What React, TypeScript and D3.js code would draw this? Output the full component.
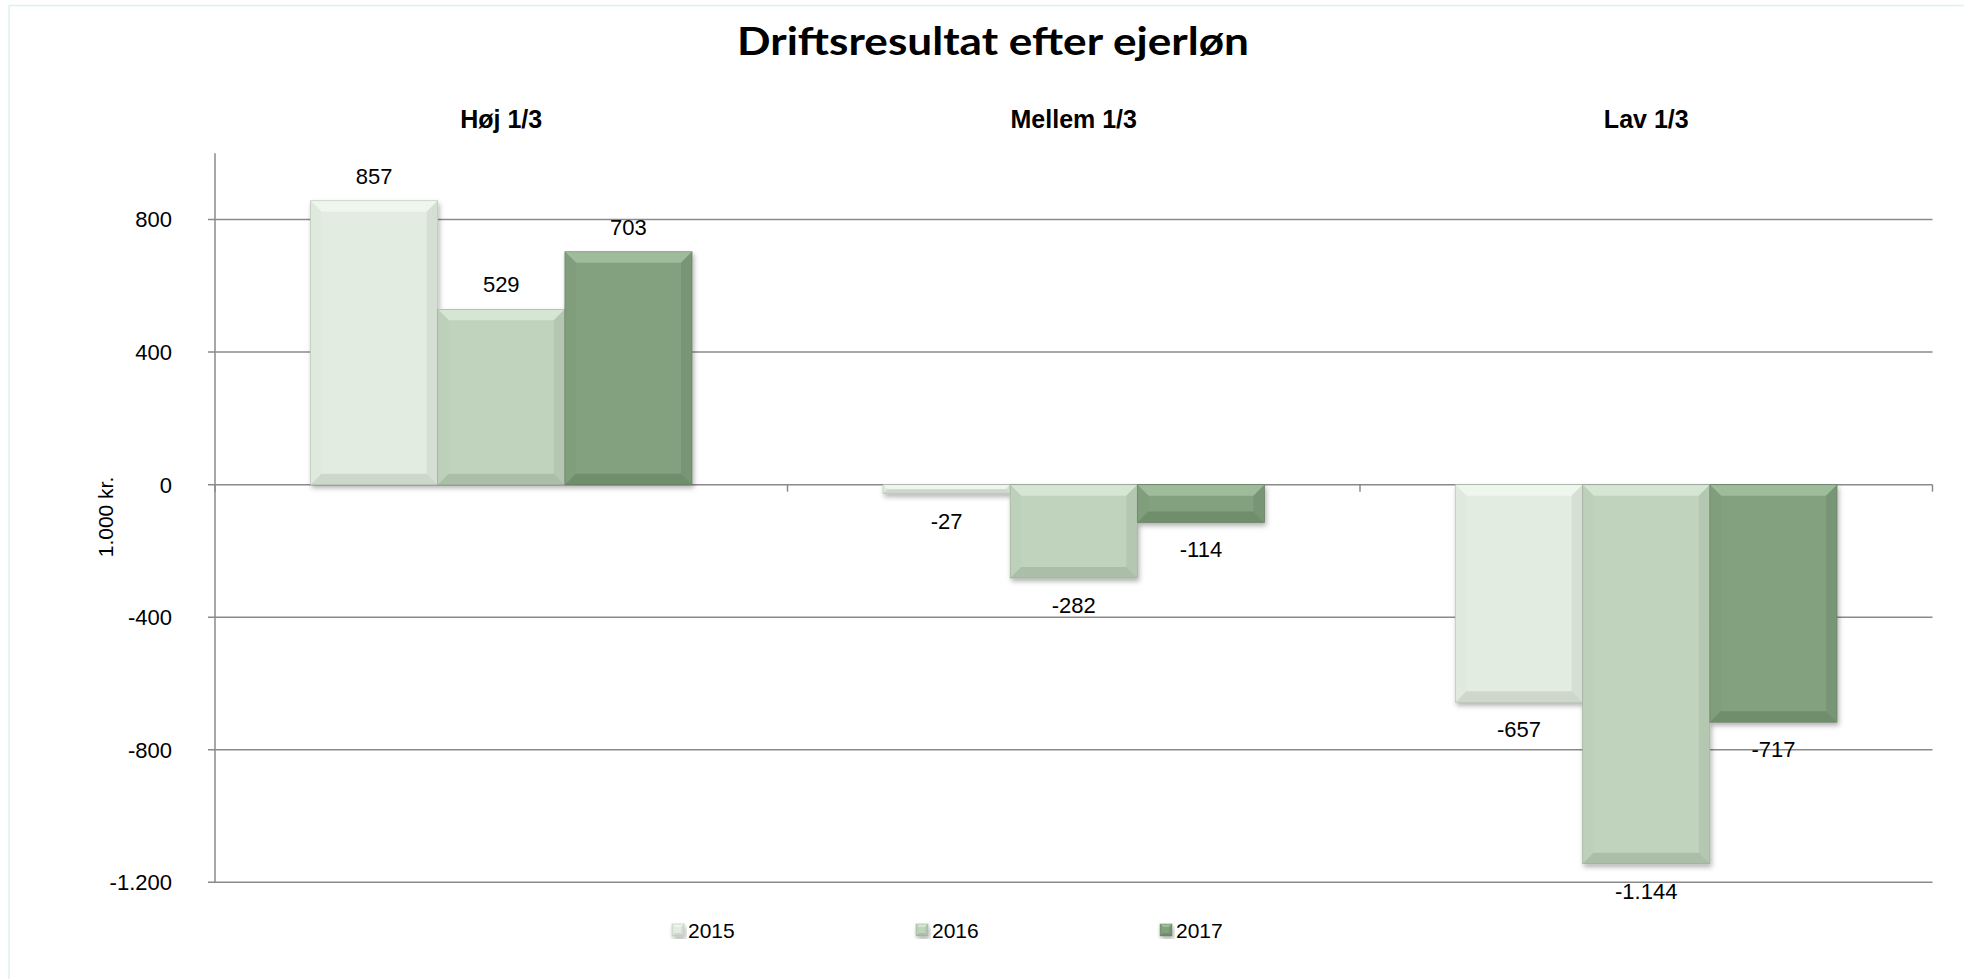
import React from "react";
import * as d3 from "d3";

const categories = ["Høj 1/3", "Mellem 1/3", "Lav 1/3"];
const years = ["2015", "2016", "2017"];
const values2015 = [857, -27, -657];
const values2016 = [529, -282, -1144];
const values2017 = [703, -114, -717];
const yTicks = [800, 400, 0, -400, -800, -1200];
const title = "Driftsresultat efter ejerløn";
const yTitle = "1.000 kr.";

const W = 1964;
const H = 979;

const palette: Record<string, { base: string; top: string; left: string; right: string; bottom: string; edge: string }> = {
  "2015": { base: "#e2ece0", top: "#eff6ee", left: "#dfe9dd", right: "#d5dfd3", bottom: "#cdd7cb", edge: "#a9b3a7" },
  "2016": { base: "#c0d3bd", top: "#d5e6d2", left: "#bdd0ba", right: "#b4c7b1", bottom: "#abbea8", edge: "#8fa08c" },
  "2017": { base: "#83a07f", top: "#9ebc9a", left: "#809d7c", right: "#789574", bottom: "#708d6c", edge: "#5c7658" },
};

const locale = d3.formatLocale({
  decimal: ",",
  thousands: ".",
  grouping: [3],
  currency: ["", " kr."],
  minus: "-",
});
const fmt = locale.format(",d");

function Bevel({ x, y, w, h, year, bmax }: { x: number; y: number; w: number; h: number; year: string; bmax: number }) {
  const c = palette[year];
  const b = Math.max(0, Math.min(bmax, h / 2, w / 2));
  const p = (pts: number[][]) => pts.map((q) => q.join(",")).join(" ");
  return (
    <g>
      <rect x={x} y={y} width={w} height={h} fill={c.base} />
      <polygon points={p([[x, y], [x + w, y], [x + w - b, y + b], [x + b, y + b]])} fill={c.top} />
      <polygon points={p([[x, y], [x + b, y + b], [x + b, y + h - b], [x, y + h]])} fill={c.left} />
      <polygon points={p([[x + w, y], [x + w - b, y + b], [x + w - b, y + h - b], [x + w, y + h]])} fill={c.right} />
      <polygon points={p([[x, y + h], [x + w, y + h], [x + w - b, y + h - b], [x + b, y + h - b]])} fill={c.bottom} />
      <rect x={x} y={y} width={w} height={h} fill="none" stroke={c.edge} strokeWidth={0.8} strokeOpacity={0.6} />
    </g>
  );
}

export default function App() {
  const plotLeft = 215;
  const plotRight = 1932.5;
  const plotTop = 153.3;
  const plotBottom = 882.3;

  const y = d3.scaleLinear().domain([-1200, 1000]).range([plotBottom, plotTop]);
  const x0 = d3.scaleBand<string>().domain(categories).range([plotLeft, plotRight]).paddingInner(0).paddingOuter(0);
  const x1 = d3.scaleBand<string>().domain(years).range([0, x0.bandwidth()]).paddingInner(0).paddingOuter(0.75);

  const series: Record<string, number[]> = { "2015": values2015, "2016": values2016, "2017": values2017 };
  const font = "'Liberation Sans', Arial, sans-serif";
  const legendX = [672, 916, 1160];

  return (
    <svg width={W} height={H} style={{ position: "absolute", left: 0, top: 0, background: "#fff" }}>
      <defs>
        <filter id="sh" x="-20%" y="-20%" width="140%" height="140%">
          <feDropShadow dx="1.5" dy="3" stdDeviation="2.5" floodColor="#000" floodOpacity="0.3" />
        </filter>
      </defs>
      <rect x={0} y={0} width={W} height={H} fill="#fff" />
      <rect x={9} y={5.5} width={W + 10} height={H + 10} fill="none" stroke="#dcf3ea" strokeWidth={1.5} />

      <text x={993} y={55} textAnchor="middle" fontFamily="Lato, 'Open Sans', sans-serif" fontWeight={700} fontSize={39} textLength={512} lengthAdjust="spacingAndGlyphs" fill="#000">
        {title}
      </text>

      {categories.map((c) => (
        <text key={c} x={(x0(c) as number) + x0.bandwidth() / 2} y={127.5} textAnchor="middle" fontFamily={font} fontWeight={700} fontSize={25} fill="#000">
          {c}
        </text>
      ))}

      {yTicks.map((t) => (
        <g key={t}>
          <line x1={plotLeft - 7} x2={plotRight} y1={y(t)} y2={y(t)} stroke="#8a8a8a" strokeWidth={1.5} />
          <text x={172} y={y(t)} dy="0.36em" textAnchor="end" fontFamily={font} fontSize={22} fill="#000">
            {fmt(t)}
          </text>
        </g>
      ))}
      <line x1={plotLeft} x2={plotLeft} y1={plotTop} y2={plotBottom} stroke="#8a8a8a" strokeWidth={1.5} />
      {[...categories.map((c) => x0(c) as number), plotRight].map((xx, i) => (
        <line key={i} x1={xx} x2={xx} y1={y(0)} y2={y(0) + 7} stroke="#8a8a8a" strokeWidth={1.5} />
      ))}

      <text transform={`translate(113,517) rotate(-90)`} textAnchor="middle" fontFamily={font} fontSize={21} fill="#000">
        {yTitle}
      </text>

      <g filter="url(#sh)">
        {categories.map((c, ci) =>
          years.map((yr) => {
            const v = series[yr][ci];
            const bx = (x0(c) as number) + (x1(yr) as number);
            const top = Math.min(y(v), y(0));
            const h = Math.abs(y(v) - y(0));
            return <Bevel key={c + yr} x={bx} y={top} w={x1.bandwidth()} h={h} year={yr} bmax={11} />;
          })
        )}
      </g>

      {categories.map((c, ci) =>
        years.map((yr) => {
          const v = series[yr][ci];
          const cx = (x0(c) as number) + (x1(yr) as number) + x1.bandwidth() / 2;
          const ty = v >= 0 ? y(v) - 17 : y(v) + 35;
          return (
            <text key={"l" + c + yr} x={cx} y={ty} textAnchor="middle" fontFamily={font} fontSize={22} fill="#000">
              {fmt(v)}
            </text>
          );
        })
      )}

      {years.map((yr, i) => (
        <g key={"lg" + yr}>
          <g filter="url(#sh)">
            <Bevel x={legendX[i]} y={924} w={12} h={12} year={yr} bmax={3} />
          </g>
          <text x={legendX[i] + 16} y={937.5} fontFamily={font} fontSize={21} fill="#000">
            {yr}
          </text>
        </g>
      ))}
    </svg>
  );
}
